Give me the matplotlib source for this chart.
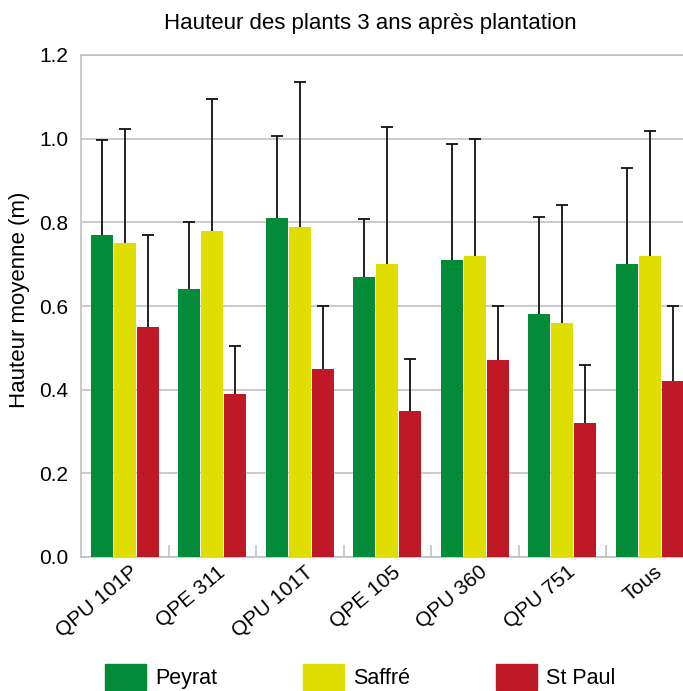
import numpy as np
import matplotlib.pyplot as plt
from matplotlib.patches import Patch

plt.rcParams['font.family'] = ['Liberation Sans', 'DejaVu Sans']

clones = ["QPU 101P", "QPE 311", "QPU 101T", "QPE 105", "QPU 360", "QPU 751", "Tous"]
sites = ["Peyrat", "Saffré", "St Paul"]

# mean height (m) per clone and site
peyrat = [0.77, 0.64, 0.81, 0.67, 0.71, 0.58, 0.70]
saffre = [0.75, 0.78, 0.79, 0.70, 0.72, 0.56, 0.72]
st_paul = [0.55, 0.39, 0.45, 0.35, 0.47, 0.32, 0.42]

# upper end of the error bars (m)
peyrat_top = [0.998, 0.801, 1.007, 0.809, 0.987, 0.813, 0.929]
saffre_top = [1.022, 1.096, 1.135, 1.027, 0.999, 0.841, 1.018]
st_paul_top = [0.769, 0.505, 0.600, 0.474, 0.600, 0.459, 0.600]

colors = ["#028c3a", "#e0de00", "#bf1827"]
grid_col = "#bdbdbd"

fig = plt.figure(figsize=(6.83, 6.91), dpi=100)
# axes run past the right edge of the figure on purpose (last bar is cut)
ax = fig.add_axes([81 / 683, 134 / 691, 612.5 / 683, 502 / 691])

x = np.arange(len(clones))
width = 0.25
step = 0.263
series = [(peyrat, peyrat_top), (saffre, saffre_top), (st_paul, st_paul_top)]
for i, (vals, tops) in enumerate(series):
    xs = x + (i - 1) * step
    vals = np.array(vals)
    err = np.array(tops) - vals
    ax.bar(xs, vals, width=width, color=colors[i], zorder=3)
    eb = ax.errorbar(xs, vals, yerr=[np.zeros_like(err), err], fmt='none',
                     ecolor='#111111', elinewidth=1.3, capsize=4.3,
                     capthick=1.3, zorder=2)
    eb[1][0].set_visible(False)  # no cap at the bar top

ax.set_xlim(-0.5, len(clones) - 0.5)
ax.set_ylim(0, 1.2)
ax.set_yticks(np.arange(0, 1.21, 0.2))
ax.set_yticklabels([f"{v:.1f}" for v in np.arange(0, 1.21, 0.2)])
ax.yaxis.grid(True, color=grid_col, linewidth=1.1, zorder=0)
ax.set_axisbelow(True)

# category labels, nudged right so their end sits just past the group centre
ax.set_xticks(x + 0.05)
ax.set_xticklabels(clones, rotation=40, ha='right', va='top',
                   rotation_mode='anchor', fontsize=15)
ax.set_xticks(np.arange(0.5, len(clones) - 1, 1.0), minor=True)
ax.tick_params(axis='x', which='major', length=0, pad=4)
ax.tick_params(axis='x', which='minor', direction='in', length=9,
               color=grid_col, width=1.1)
ax.tick_params(axis='y', length=0, pad=9, labelsize=15)

for side in ['left', 'bottom', 'top']:
    ax.spines[side].set_color(grid_col)
    ax.spines[side].set_linewidth(1.1)
ax.spines['right'].set_visible(False)

fig.text(20 / 683, 1 - 300 / 691, "Hauteur moyenne (m)", rotation=90,
         ha='center', va='center', fontsize=16)
fig.text(370 / 683, 1 - 23 / 691, "Hauteur des plants 3 ans après plantation",
         ha='center', va='center', fontsize=16)

handles = [Patch(color=c) for c in colors]
fig.legend(handles, sites, loc='upper left',
           bbox_to_anchor=(105 / 683, 1 - 664 / 691), ncol=3, frameon=False,
           fontsize=15.5, handlelength=1.9, handleheight=1.5,
           handletextpad=0.42, columnspacing=4.0, borderpad=0,
           borderaxespad=0)

fig.savefig("out.png", dpi=100)
